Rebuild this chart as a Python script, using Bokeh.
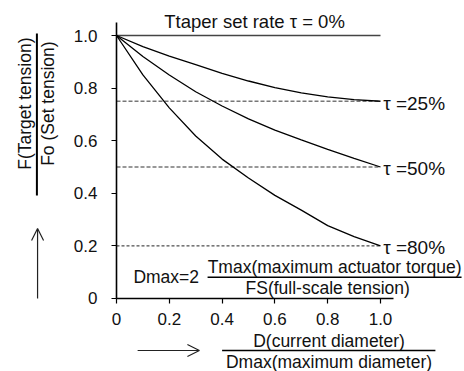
import math
from bokeh.plotting import figure
from bokeh.models import Range1d, FixedTicker, CustomJSTickFormatter, Arrow, OpenHead
from bokeh.core.properties import value
from bokeh.embed import file_html
from bokeh.resources import INLINE

# ---- data ----
ratio = [0.0, 0.1, 0.2, 0.3, 0.4, 0.5, 0.6, 0.7, 0.8, 0.9, 1.0]
tau0 = [1.0, 1.0, 1.0, 1.0, 1.0, 1.0, 1.0, 1.0, 1.0, 1.0, 1.0]
tau25 = [1.0, 0.958, 0.922, 0.889, 0.856, 0.827, 0.802, 0.782, 0.767, 0.756, 0.75]
tau50 = [1.0, 0.92, 0.85, 0.786, 0.732, 0.683, 0.64, 0.603, 0.567, 0.533, 0.5]
tau80 = [1.0, 0.85, 0.725, 0.618, 0.53, 0.458, 0.392, 0.336, 0.277, 0.235, 0.2]
ref_levels = [0.75, 0.5, 0.2]
tau_labels = ["\u03c4 =25%", "\u03c4 =50%", "\u03c4 =80%"]
ticks = [0, 0.2, 0.4, 0.6, 0.8, 1.0]

FONT = value("Liberation Sans")
FS = "17.5px"
TC = "#111111"

p = figure(width=464, height=371, output_backend="svg", toolbar_location=None,
           x_range=Range1d(-0.4394, 1.3182), y_range=Range1d(-0.2776, 1.1331),
           min_border=0, min_border_left=0, min_border_right=0,
           min_border_top=0, min_border_bottom=0)
p.outline_line_color = None
p.xgrid.visible = False
p.ygrid.visible = False
p.background_fill_color = "white"
p.border_fill_color = "white"

fmt = CustomJSTickFormatter(code="return tick == 0 ? '0' : tick.toFixed(1);")
for ax in (p.xaxis[0], p.yaxis[0]):
    ax.fixed_location = 0
    ax.bounds = (0, 1.05)
    ax.ticker = FixedTicker(ticks=ticks)
    ax.formatter = fmt
    ax.axis_line_color = "black"
    ax.axis_line_width = 1.6
    ax.major_tick_line_color = "black"
    ax.major_tick_line_width = 1.2
    ax.major_tick_out = 5
    ax.major_tick_in = 0
    ax.minor_tick_line_color = None
    ax.major_label_text_font = "Liberation Sans"
    ax.major_label_text_font_size = "17px"
    ax.major_label_text_color = TC
p.xaxis[0].major_label_standoff = 10
p.yaxis[0].major_label_standoff = 14

# reference dashed levels
p.line([0, 1.0], [ref_levels[0]] * 2, line_color="#777777", line_width=1.5, line_dash="4 2")
p.line([0, 1.0], [ref_levels[1]] * 2, line_color="#777777", line_width=1.5, line_dash="4 2")
p.line([0, 1.0], [ref_levels[2]] * 2, line_color="#222222", line_width=1.0, line_dash="3 2")

# curves
p.line(ratio, tau0, line_color="#444444", line_width=1.6)
for ys in (tau25, tau50, tau80):
    p.line(ratio, ys, line_color="black", line_width=1.3)

# curve labels
p.text(x=[1.01] * 3, y=ref_levels, text=tau_labels, text_font=FONT, y_offset=2,
       text_font_size="19px", text_align="left", text_baseline="middle", text_color=TC)

# title text
p.text(x=[0.523], y=[1.053], text=["Ttaper set rate \u03c4 = 0%"], text_font=FONT,
       text_font_size="18.5px", text_align="center", text_baseline="middle", text_color=TC)

# formula inside plot
p.text(x=[0.064], y=[0.080], text=["Dmax=2"], text_font=FONT, text_font_size=FS,
       text_align="left", text_baseline="middle", text_color=TC)
p.segment(x0=[0.345], y0=[0.081], x1=[1.307], y1=[0.081], line_color="black", line_width=1.6)
p.text(x=[0.826], y=[0.118], text=["Tmax(maximum actuator torque)"], text_font=FONT,
       text_font_size=FS, text_align="center", text_baseline="middle", text_color=TC)
p.text(x=[0.80], y=[0.040], text=["FS(full-scale tension)"], text_font=FONT,
       text_font_size=FS, text_align="center", text_baseline="middle", text_color=TC)

# y-axis label (fraction, rotated)
p.text(x=[-0.345], y=[0.741], text=["F(Target tension)"], angle=math.pi / 2, text_font=FONT,
       text_font_size=FS, text_align="center", text_baseline="middle", text_color=TC)
p.text(x=[-0.261], y=[0.741], text=["Fo (Set tension)"], angle=math.pi / 2, text_font=FONT,
       text_font_size=FS, text_align="center", text_baseline="middle", text_color=TC)
p.segment(x0=[-0.3015], y0=[1.0076], x1=[-0.3015], y1=[0.392], line_color="black", line_width=2)
p.add_layout(Arrow(end=OpenHead(size=12, line_width=1.2, line_color="#222222"),
                   x_start=-0.299, y_start=0.0, x_end=-0.299, y_end=0.266,
                   line_color="#222222", line_width=1.2))

# x-axis label (fraction)
p.add_layout(Arrow(end=OpenHead(size=12, line_width=1.2, line_color="#222222"),
                   x_start=0.08, y_start=-0.1977, x_end=0.314, y_end=-0.1977,
                   line_color="#222222", line_width=1.2))
p.text(x=[0.805], y=[-0.162], text=["D(current diameter)"], text_font=FONT, text_font_size=FS,
       text_align="center", text_baseline="middle", text_color=TC)
p.segment(x0=[0.40], y0=[-0.1977], x1=[1.208], y1=[-0.1977], line_color="black", line_width=1.6)
p.text(x=[0.805], y=[-0.243], text=["Dmax(maximum diameter)"], text_font=FONT, text_font_size=FS,
       text_align="center", text_baseline="middle", text_color=TC)

open("out.html", "w").write(file_html(p, INLINE))
